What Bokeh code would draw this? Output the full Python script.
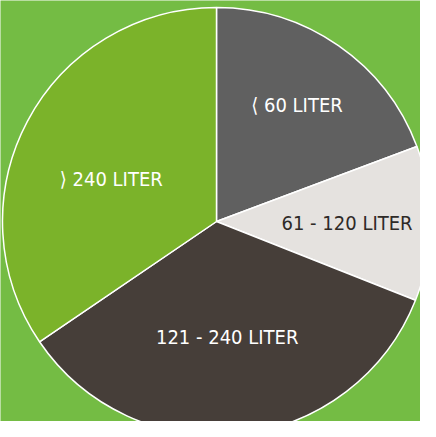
import math
from bokeh.plotting import figure
from bokeh.models import Range1d, ColumnDataSource
from bokeh.core.properties import value
from bokeh.embed import file_html
from bokeh.resources import INLINE

# data
categories = ["\u27e8 60 LITER", "61 - 120 LITER", "121 - 240 LITER", "\u27e9 240 LITER"]
shares = [19.3, 11.7, 34.5, 34.5]
colors = ["#606060", "#e5e2df", "#463e39", "#7bb32a"]
label_colors = ["#ffffff", "#2e2a27", "#ffffff", "#ffffff"]

BG = "#74bc44"
R = 214
label_r = [0.66, 0.61, 0.54, 0.53]
label_turn = [0.0, 0.0, -1.0, 6.0]  # degrees of label rotation around the centre

# angles: start at 12 o'clock, clockwise
total = sum(shares)
starts, ends, mids = [], [], []
a = math.pi / 2
for s in shares:
    span = 2 * math.pi * s / total
    starts.append(a - span)
    ends.append(a)
    mids.append(a - span / 2)
    a -= span

lang = [m + math.radians(label_turn[i]) for i, m in enumerate(mids)]
lx = [label_r[i] * R * math.cos(t) for i, t in enumerate(lang)]
ly = [label_r[i] * R * math.sin(t) for i, t in enumerate(lang)]

src = ColumnDataSource(dict(start=starts, end=ends, color=colors,
                            lx=lx, ly=ly, label=categories, lc=label_colors))

p = figure(width=420, height=421, output_backend="svg", toolbar_location=None,
           x_range=Range1d(-216, 204), y_range=Range1d(-200, 221),
           min_border=0, background_fill_color=BG, border_fill_color=BG)
p.axis.visible = False
p.grid.visible = False
p.outline_line_color = None

p.wedge(x=0, y=0, radius=R, start_angle="start", end_angle="end",
        fill_color="color", line_color="white", line_width=1.5, source=src)

p.text(x="lx", y="ly", text="label", text_color="lc", source=src,
       text_align="center", text_baseline="middle",
       text_font=value("DejaVu Sans Condensed, Liberation Sans, sans-serif"),
       text_font_size="20px")

html = file_html(p, INLINE)
html = html.replace("<body>", '<body style="background:%s">' % BG, 1)
open("out.html", "w").write(html)
